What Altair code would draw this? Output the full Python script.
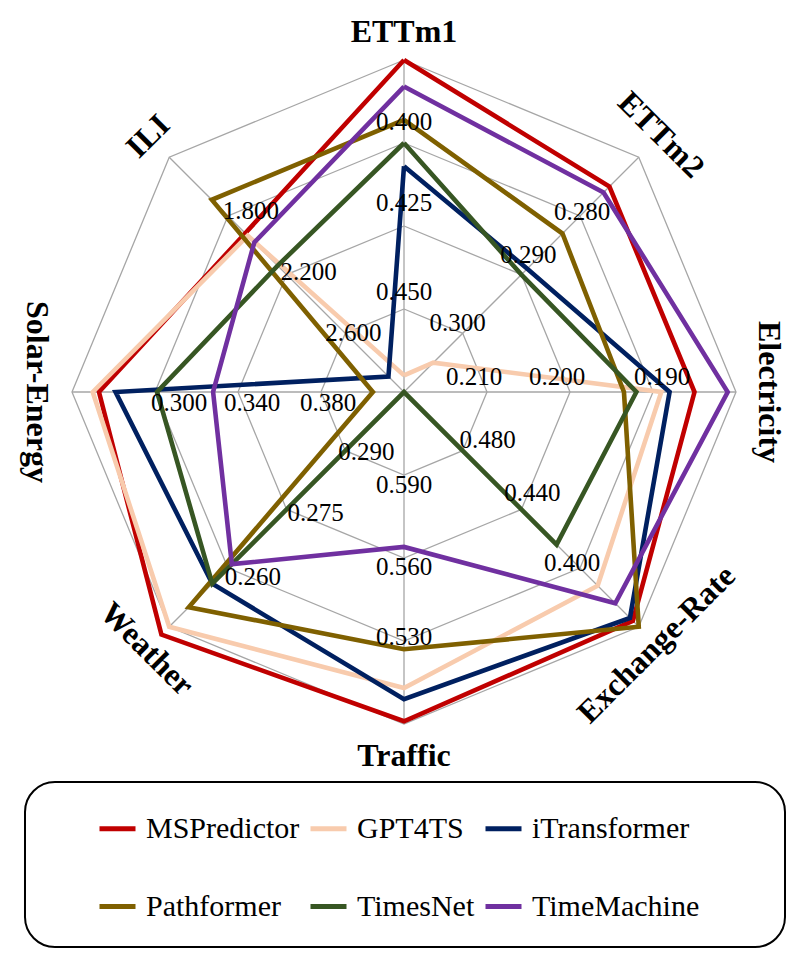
import math
import altair as alt
import pandas as pd

# ---------------- data ----------------
categories = ["ETTm1", "ETTm2", "Electricity", "Exchange-Rate",
              "Traffic", "Weather", "Solar-Energy", "ILI"]
# value at the centre and at the outer ring of each axis (lower error = outward)
axis_center = [0.475, 0.310, 0.220, 0.520, 0.620, 0.305, 0.420, 3.000]
axis_outer = [0.375, 0.270, 0.180, 0.360, 0.500, 0.245, 0.260, 1.400]
tick_values = [
    [0.450, 0.425, 0.400],
    [0.300, 0.290, 0.280],
    [0.210, 0.200, 0.190],
    [0.480, 0.440, 0.400],
    [0.590, 0.560, 0.530],
    [0.290, 0.275, 0.260],
    [0.380, 0.340, 0.300],
    [2.600, 2.200, 1.800],
]

series_names = ["MSPredictor", "GPT4TS", "iTransformer",
                "Pathformer", "TimesNet", "TimeMachine"]
mspredictor = [0.375, 0.275, 0.185, 0.364, 0.501, 0.243, 0.273, 1.918]
gpt4ts = [0.470, 0.305, 0.189, 0.388, 0.513, 0.245, 0.270, 1.935]
itransformer = [0.407, 0.289, 0.188, 0.366, 0.509, 0.256, 0.281, 2.894]
pathformer = [0.393, 0.283, 0.1935, 0.360, 0.527, 0.250, 0.405, 1.690]
timesnet = [0.400, 0.290, 0.192, 0.416, 0.620, 0.256, 0.301, 2.139]
timemachine = [0.383, 0.276, 0.181, 0.376, 0.564, 0.261, 0.328, 1.980]
series_values = [mspredictor, gpt4ts, itransformer, pathformer, timesnet, timemachine]

# ---------------- style ----------------
colors = ["#C00000", "#F8CBAD", "#002060", "#7F6000", "#375623", "#7030A0"]
GRID = "#A6A6A6"
FONT = "Liberation Serif"
R_PX = 332.0            # radius of outer ring in pixels
W, H = 790, 938         # plot size
CX, CY = 396.0, 384.0   # radar centre inside plot (pixels)
ring_fracs = [0.25, 0.5, 0.75, 1.0]
cat_label_r = [1.085, 1.095, 1.10, 1.075, 1.095, 1.095, 1.105, 1.09]
cat_rotation = [0, 45, 90, 315, 0, 45, 90, 315]
# pixel nudges (dx, dy) of the ring labels, per axis, per ring
tick_nudge = [
    [(0, -17), (0, -23), (0, -21)],
    [(-5, -10), (7, -20), (2, -4)],
    [(-13, -15), (-13, -15), (9, -15)],
    [(25, -11), (11, -16), (-8, -5)],
    [(0, 10), (0, 9), (0, -4)],
    [(21, 1), (29, 4), (25, 9)],
    [(7, 11), (14, 11), (24, 11)],
    [(8, 0), (22, -3), (23, -5)],
]

n = len(categories)


def ang(k):
    return math.radians(90 - 360.0 / n * k)


def frac(k, v):
    return (axis_center[k] - v) / (axis_center[k] - axis_outer[k])


# ---------------- tables ----------------
rows = []
for s, vals in zip(series_names, series_values):
    for j in range(n + 1):
        k = j % n
        f = frac(k, vals[k])
        rows.append({"series": s, "k": j, "x": f * math.cos(ang(k)), "y": f * math.sin(ang(k))})
line_df = pd.DataFrame(rows)

ring_rows = []
for rf in ring_fracs:
    for j in range(n + 1):
        k = j % n
        ring_rows.append({"ring": rf, "k": j, "x": rf * math.cos(ang(k)), "y": rf * math.sin(ang(k))})
ring_df = pd.DataFrame(ring_rows)

spoke_df = pd.DataFrame([{"x0": 0.0, "y0": 0.0, "x": math.cos(ang(k)), "y": math.sin(ang(k))} for k in range(n)])

tick_rows = []
for k in range(n):
    for i, v in enumerate(tick_values[k]):
        f = frac(k, v)
        dx, dy = tick_nudge[k][i]
        tick_rows.append({"label": f"{v:.3f}",
                          "x": f * math.cos(ang(k)) + dx / R_PX,
                          "y": f * math.sin(ang(k)) - dy / R_PX})
tick_df = pd.DataFrame(tick_rows)

cat_df = pd.DataFrame([{"cat": c, "x": cat_label_r[k] * math.cos(ang(k)),
                        "y": cat_label_r[k] * math.sin(ang(k)), "rot": cat_rotation[k]}
                       for k, c in enumerate(categories)])

xs = alt.Scale(domain=[-CX / R_PX, (W - CX) / R_PX], nice=False, zero=False)
ys = alt.Scale(domain=[-(H - CY) / R_PX, CY / R_PX], nice=False, zero=False)
X = alt.X("x:Q", scale=xs, axis=None)
Y = alt.Y("y:Q", scale=ys, axis=None)

box = alt.Chart(pd.DataFrame({"a": [0]})).mark_rect(
    fillOpacity=0, stroke="black", strokeWidth=2, cornerRadius=30
).encode(x=alt.value(17), x2=alt.value(777), y=alt.value(774), y2=alt.value(939))

rings = alt.Chart(ring_df).mark_line(color=GRID, strokeWidth=1.3).encode(
    x=X, y=Y, detail="ring:N", order="k:Q")

spokes = alt.Chart(spoke_df).mark_rule(color=GRID, strokeWidth=1.3).encode(
    x=alt.X("x0:Q", scale=xs, axis=None), y=alt.Y("y0:Q", scale=ys, axis=None),
    x2="x:Q", y2="y:Q")

lines = alt.Chart(line_df).mark_line(strokeWidth=4.6, strokeJoin="miter", strokeMiterLimit=10).encode(
    x=X, y=Y, order="k:Q",
    color=alt.Color("series:N", sort=series_names,
                    scale=alt.Scale(domain=series_names, range=colors),
                    legend=alt.Legend(orient="none", legendX=89, legendY=800,
                                      direction="horizontal", columns=3, title=None,
                                      symbolType="stroke", symbolStrokeWidth=5,
                                      symbolSize=1296, labelFont=FONT, labelFontSize=30,
                                      labelColor="black", labelOffset=8, labelLimit=400,
                                      columnPadding=0, rowPadding=42, padding=0)))

ticks = alt.Chart(tick_df).mark_text(font=FONT, fontSize=25, color="black",
                                     align="center", baseline="middle").encode(
    x=X, y=Y, text="label:N")

cats = alt.Chart(cat_df).mark_text(font=FONT, fontSize=32, fontWeight="bold", color="black",
                                   align="center", baseline="middle").encode(
    x=X, y=Y, text="cat:N", angle=alt.Angle("rot:Q", scale=None))

chart = alt.layer(box, rings, spokes, lines, ticks, cats).properties(
    width=W, height=H, padding=0, background="white"
).configure_view(stroke=None)

chart.save("out.html", embed_options={"renderer": "svg", "actions": False})
